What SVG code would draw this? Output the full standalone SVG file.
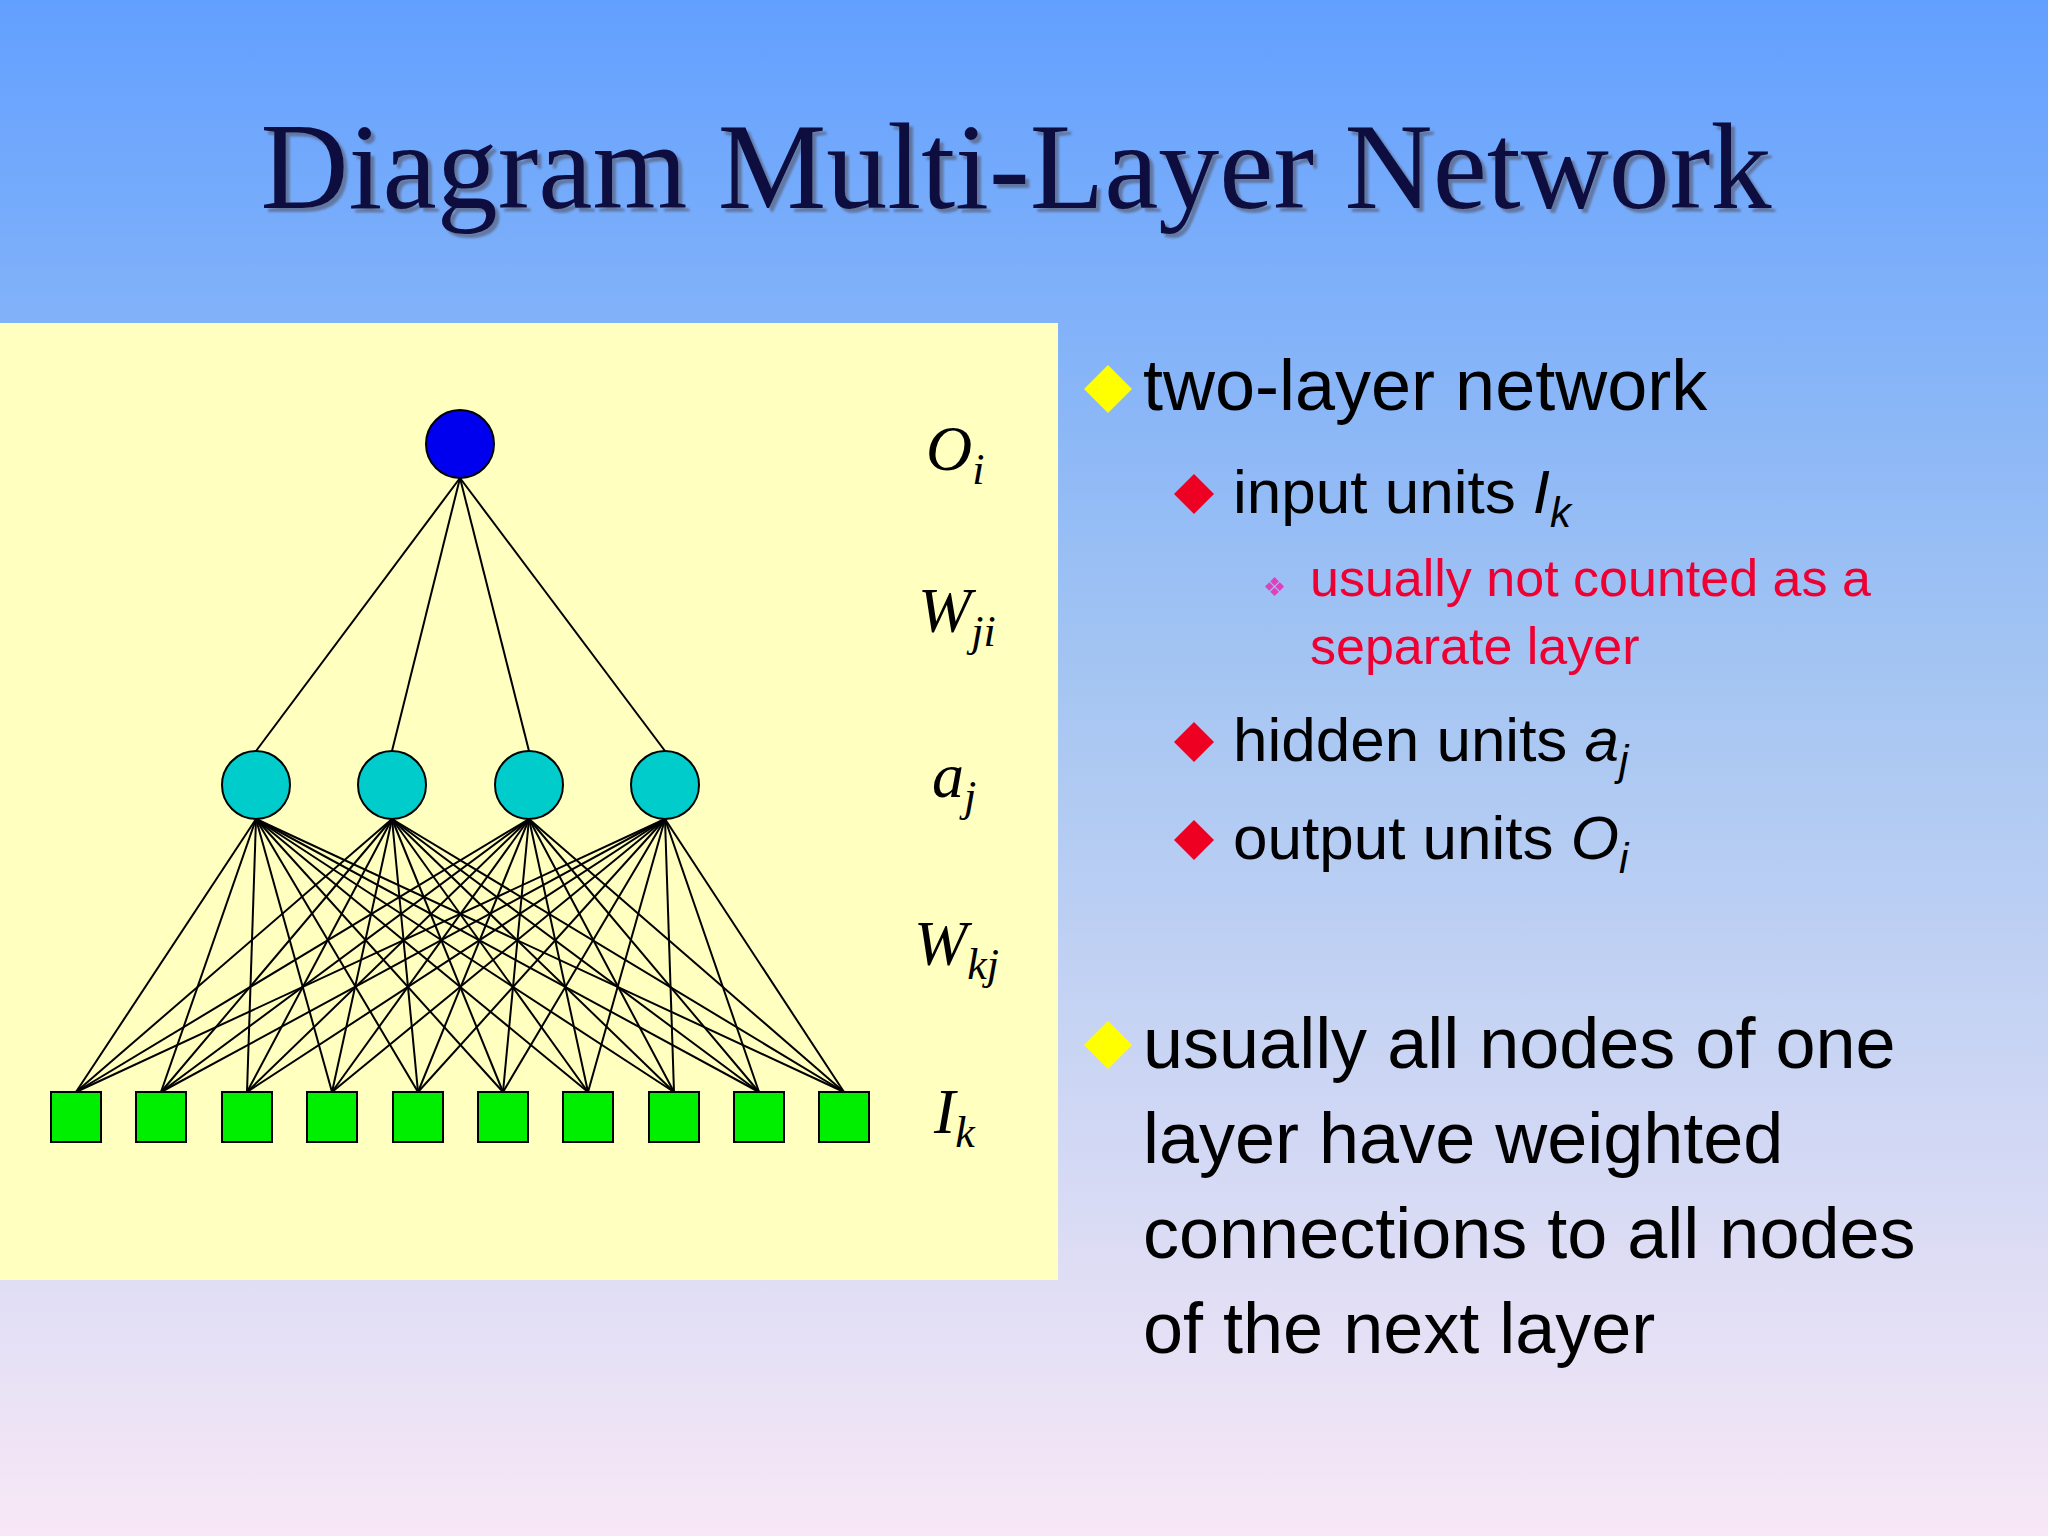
<svg xmlns="http://www.w3.org/2000/svg" width="2048" height="1536" viewBox="0 0 2048 1536">
<defs>
<linearGradient id="bg" x1="0" y1="0" x2="0" y2="1">
<stop offset="0" stop-color="#62a0ff"/>
<stop offset="0.45" stop-color="#a6c6f2"/>
<stop offset="1" stop-color="#f8e8f6"/>
</linearGradient>
<filter id="sh"><feDropShadow dx="4" dy="4" stdDeviation="1" flood-color="#556" flood-opacity="0.6"/></filter>
</defs>
<style>
.t{font-family:"Liberation Serif",serif;}
.s{font-family:"Liberation Sans",Arial,sans-serif;fill:#000;}
.lab{font-family:"Liberation Serif",serif;font-style:italic;font-size:64px;fill:#000;}
.sub{font-size:44px;}
.c line{stroke:#000;stroke-width:2;}
.hid{fill:#00cccc;stroke:#000;stroke-width:2;}
.inp{fill:#00ee00;stroke:#000;stroke-width:2;}
</style>
<rect width="2048" height="1536" fill="url(#bg)"/>
<text class="t" x="1016" y="208" font-size="122" text-anchor="middle" fill="#0a0a40" filter="url(#sh)">Diagram Multi-Layer Network</text>
<rect x="0" y="323" width="1058" height="957" fill="#ffffc0"/>
<g id="connectors" class="c">
<line x1="460" y1="478" x2="256" y2="751"/><line x1="460" y1="478" x2="392" y2="751"/><line x1="460" y1="478" x2="529" y2="751"/><line x1="460" y1="478" x2="665" y2="751"/>
<g id="hl">
</g>
</g>
<g id="c2" class="c">
<line x1="256" y1="819" x2="76" y2="1092"/><line x1="256" y1="819" x2="161" y2="1092"/><line x1="256" y1="819" x2="247" y2="1092"/><line x1="256" y1="819" x2="332" y2="1092"/><line x1="256" y1="819" x2="418" y2="1092"/><line x1="256" y1="819" x2="503" y2="1092"/><line x1="256" y1="819" x2="588" y2="1092"/><line x1="256" y1="819" x2="674" y2="1092"/><line x1="256" y1="819" x2="759" y2="1092"/><line x1="256" y1="819" x2="844" y2="1092"/>
<line x1="392" y1="819" x2="76" y2="1092"/><line x1="392" y1="819" x2="161" y2="1092"/><line x1="392" y1="819" x2="247" y2="1092"/><line x1="392" y1="819" x2="332" y2="1092"/><line x1="392" y1="819" x2="418" y2="1092"/><line x1="392" y1="819" x2="503" y2="1092"/><line x1="392" y1="819" x2="588" y2="1092"/><line x1="392" y1="819" x2="674" y2="1092"/><line x1="392" y1="819" x2="759" y2="1092"/><line x1="392" y1="819" x2="844" y2="1092"/>
<line x1="529" y1="819" x2="76" y2="1092"/><line x1="529" y1="819" x2="161" y2="1092"/><line x1="529" y1="819" x2="247" y2="1092"/><line x1="529" y1="819" x2="332" y2="1092"/><line x1="529" y1="819" x2="418" y2="1092"/><line x1="529" y1="819" x2="503" y2="1092"/><line x1="529" y1="819" x2="588" y2="1092"/><line x1="529" y1="819" x2="674" y2="1092"/><line x1="529" y1="819" x2="759" y2="1092"/><line x1="529" y1="819" x2="844" y2="1092"/>
<line x1="665" y1="819" x2="76" y2="1092"/><line x1="665" y1="819" x2="161" y2="1092"/><line x1="665" y1="819" x2="247" y2="1092"/><line x1="665" y1="819" x2="332" y2="1092"/><line x1="665" y1="819" x2="418" y2="1092"/><line x1="665" y1="819" x2="503" y2="1092"/><line x1="665" y1="819" x2="588" y2="1092"/><line x1="665" y1="819" x2="674" y2="1092"/><line x1="665" y1="819" x2="759" y2="1092"/><line x1="665" y1="819" x2="844" y2="1092"/>
</g>
<g id="out"><circle cx="460" cy="444" r="34" fill="#0000ee" stroke="#000" stroke-width="2"/></g>
<g id="h1"><circle class="hid" cx="256" cy="785" r="34"/></g>
<g id="h2"><circle class="hid" cx="392" cy="785" r="34"/></g>
<g id="h3"><circle class="hid" cx="529" cy="785" r="34"/></g>
<g id="h4"><circle class="hid" cx="665" cy="785" r="34"/></g>
<g id="inputs">
<rect class="inp" x="51" y="1092" width="50" height="50"/><rect class="inp" x="136" y="1092" width="50" height="50"/><rect class="inp" x="222" y="1092" width="50" height="50"/><rect class="inp" x="307" y="1092" width="50" height="50"/><rect class="inp" x="393" y="1092" width="50" height="50"/><rect class="inp" x="478" y="1092" width="50" height="50"/><rect class="inp" x="563" y="1092" width="50" height="50"/><rect class="inp" x="649" y="1092" width="50" height="50"/><rect class="inp" x="734" y="1092" width="50" height="50"/><rect class="inp" x="819" y="1092" width="50" height="50"/>
</g>
<g id="labels">
<text class="lab" x="926" y="470">O<tspan class="sub" dy="14">i</tspan></text>
<text class="lab" x="918" y="632">W<tspan class="sub" dy="14">ji</tspan></text>
<text class="lab" x="932" y="797">a<tspan class="sub" dy="14">j</tspan></text>
<text class="lab" x="914" y="965">W<tspan class="sub" dy="14">kj</tspan></text>
<text class="lab" x="934" y="1133">I<tspan class="sub" dy="14">k</tspan></text>
</g>
<g id="text">
<path d="M1108 365 L1132 389 L1108 413 L1084 389 Z" fill="#ffff00"/>
<text class="s" x="1143" y="410" font-size="72">two-layer network</text>
<path d="M1194 474 L1214 494 L1194 514 L1174 494 Z" fill="#ee0022"/>
<text class="s" x="1233" y="513" font-size="62">input units <tspan font-style="italic">I</tspan><tspan font-style="italic" font-size="42" dy="14">k</tspan></text>
<text x="1263" y="596" font-size="26" fill="#e040c0" font-family="DejaVu Sans,sans-serif">❖</text>
<text class="s" x="1310" y="596" font-size="52" style="fill:#ee0033">usually not counted as a</text>
<text class="s" x="1310" y="664" font-size="52" style="fill:#ee0033">separate layer</text>
<path d="M1194 722 L1214 742 L1194 762 L1174 742 Z" fill="#ee0022"/>
<text class="s" x="1233" y="761" font-size="62">hidden units <tspan font-style="italic">a</tspan><tspan font-style="italic" font-size="42" dy="14">j</tspan></text>
<path d="M1194 820 L1214 840 L1194 860 L1174 840 Z" fill="#ee0022"/>
<text class="s" x="1233" y="859" font-size="62">output units <tspan font-style="italic">O</tspan><tspan font-style="italic" font-size="42" dy="14">i</tspan></text>
<path d="M1108 1021 L1132 1045 L1108 1069 L1084 1045 Z" fill="#ffff00"/>
<text class="s" x="1143" y="1068" font-size="72">usually all nodes of one</text>
<text class="s" x="1143" y="1163" font-size="72">layer have weighted</text>
<text class="s" x="1143" y="1258" font-size="72">connections to all nodes</text>
<text class="s" x="1143" y="1353" font-size="72">of the next layer</text>
</g>
</svg>
